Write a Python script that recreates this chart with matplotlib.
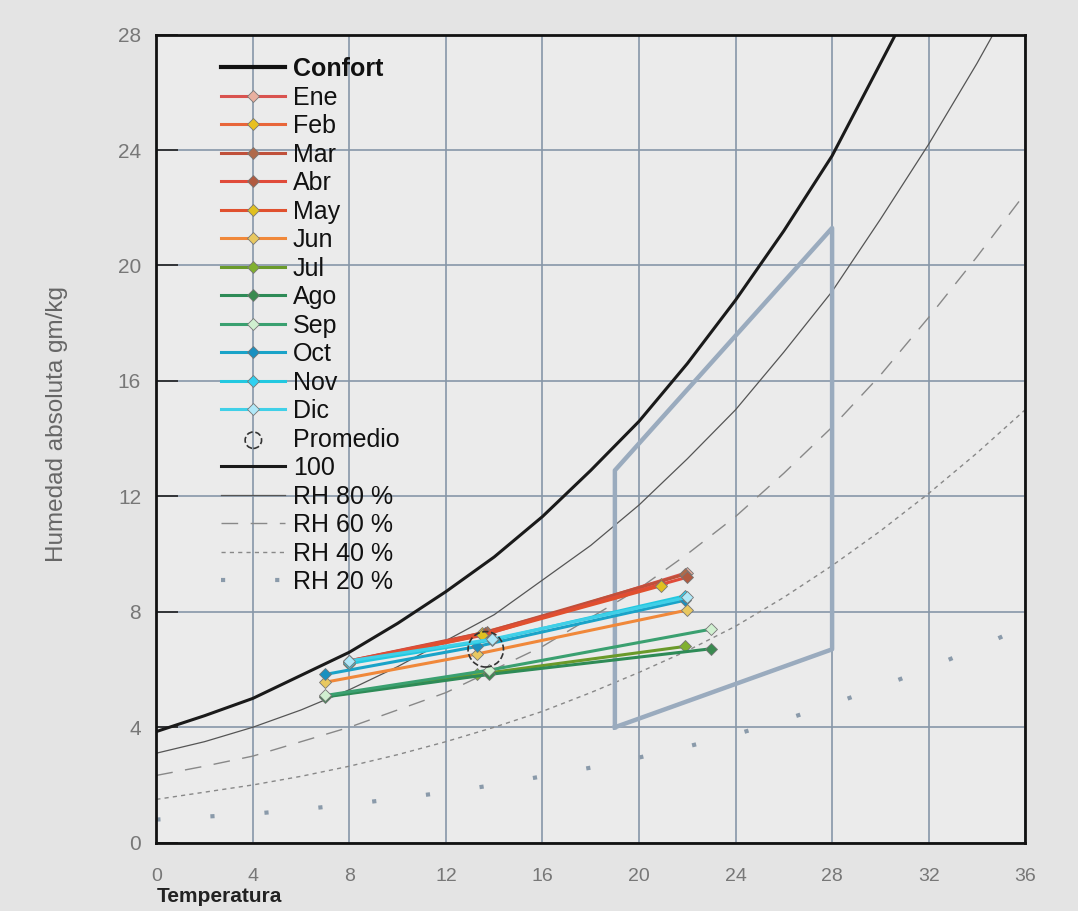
import matplotlib.pyplot as plt
from matplotlib import font_manager

# curvas de humedad relativa
temps_curva = [0, 2, 4, 6, 8, 10, 12, 14, 16, 18, 20, 22, 24, 26, 28, 30, 32, 34, 36]
rh100 = [3.85, 4.4, 5.0, 5.8, 6.6, 7.6, 8.7, 9.9, 11.3, 12.9, 14.6, 16.6, 18.8, 21.2,
         23.8, 27.0, 30.2, 34.0, 38.0]
rh80 = [3.1, 3.5, 4.0, 4.6, 5.3, 6.1, 7.0, 7.9, 9.1, 10.3, 11.7, 13.3, 15.0, 17.0,
        19.1, 21.6, 24.2, 27.0, 30.0]
rh60 = [2.33, 2.65, 3.0, 3.5, 4.0, 4.6, 5.2, 6.0, 6.8, 7.8, 8.8, 10.0, 11.3, 12.8,
        14.4, 16.2, 18.2, 20.3, 22.5]
rh40 = [1.5, 1.75, 2.0, 2.3, 2.65, 3.05, 3.5, 4.0, 4.55, 5.2, 5.9, 6.65, 7.5, 8.5,
        9.6, 10.8, 12.1, 13.5, 15.0]
rh20 = [0.8, 0.9, 1.0, 1.15, 1.33, 1.53, 1.75, 2.0, 2.3, 2.6, 2.95, 3.33, 3.75, 4.25,
        4.8, 5.4, 6.05, 6.75, 7.5]

# zona de confort
confort_t = [19, 19, 28, 28, 19]
confort_h = [4.0, 12.9, 21.3, 6.7, 4.0]

# meses: temperaturas (min, media, max) y humedades
meses = ['Ene', 'Feb', 'Mar', 'Abr', 'May', 'Jun', 'Jul', 'Ago', 'Sep', 'Oct', 'Nov', 'Dic']
t_min = [8.0, 8.0, 8.0, 8.0, 8.0, 7.0, 7.0, 7.0, 7.0, 7.0, 8.0, 8.0]
t_med = [13.6, 13.5, 13.7, 13.6, 13.5, 13.3, 13.3, 13.8, 13.8, 13.3, 13.9, 13.9]
t_max = [22.0, 20.9, 21.9, 22.0, 20.9, 22.0, 21.9, 23.0, 23.0, 21.9, 21.9, 22.0]
h_min = [6.25, 6.2, 6.3, 6.3, 6.25, 5.56, 5.07, 5.05, 5.1, 5.83, 6.21, 6.3]
h_med = [7.2, 7.27, 7.3, 7.25, 7.2, 6.54, 5.83, 5.83, 5.98, 6.8, 7.02, 7.05]
h_max = [9.36, 8.95, 9.3, 9.2, 8.9, 8.06, 6.8, 6.72, 7.4, 8.4, 8.55, 8.5]

prom_t = [13.65]
prom_h = [6.7]

line_colors = ['#d9534f', '#e8663a', '#c0503a', '#e04b3a', '#e0502e', '#f0883a',
               '#6a9a2a', '#2e8b57', '#3aa070', '#1aa3c8', '#22c8e0', '#40d0e8']
marker_colors = ['#e8b0a0', '#e8c020', '#b06a4a', '#b05a40', '#e0c020', '#e8c860',
                 '#80b030', '#3a8a50', '#d0f0d0', '#1a90c0', '#30d0f0', '#b0e8f8']

fonts = [f.name for f in font_manager.fontManager.ttflist]
narrow = 'Liberation Sans Narrow' if 'Liberation Sans Narrow' in fonts else 'Liberation Sans'

fig = plt.figure(figsize=(10.78, 9.11), dpi=100, facecolor='#e4e4e4')
ax = fig.add_axes([0.145, 0.075, 0.806, 0.887])
ax.set_facecolor('#ebebeb')

l_conf, = ax.plot(confort_t, confort_h, color='#9aabbe', linewidth=3.2, label='Confort', zorder=3)

month_lines = []
for i in range(len(meses)):
    ln, = ax.plot([t_min[i], t_med[i], t_max[i]], [h_min[i], h_med[i], h_max[i]],
                  color=line_colors[i], linewidth=2.2, marker='D', markersize=6,
                  markerfacecolor=marker_colors[i], markeredgecolor='#777777',
                  markeredgewidth=0.6, label=meses[i], zorder=4)
    month_lines.append(ln)

prom = ax.scatter(prom_t, prom_h, s=650, facecolors='none', edgecolors='#333333',
                  linestyles='--', linewidths=1.2, label='Promedio', zorder=5)

l100, = ax.plot(temps_curva, rh100, color='#1a1a1a', linewidth=2.2, label='100', zorder=2)
l80, = ax.plot(temps_curva, rh80, color='#555555', linewidth=0.9, label='RH 80 %', zorder=2)
l60, = ax.plot(temps_curva, rh60, color='#888888', linewidth=1.0, linestyle=(0, (12, 9)),
               label='RH 60 %', zorder=2)
l40, = ax.plot(temps_curva, rh40, color='#888888', linewidth=1.0, linestyle=(0, (3, 3)),
               label='RH 40 %', zorder=2)
l20, = ax.plot(temps_curva, rh20, color='#8a9aaa', linewidth=3, linestyle=(0, (1, 12)),
               label='RH 20 %', zorder=2)

ax.set_xlim(0, 36)
ax.set_ylim(0, 28)
ax.set_xticks(range(0, 37, 4))
ax.set_yticks(range(0, 29, 4))
ax.grid(True, color='#8796a8', linewidth=1.2)
ax.set_axisbelow(True)
for sp in ax.spines.values():
    sp.set_color('#111111')
    sp.set_linewidth(2)

ax.tick_params(axis='y', direction='in', length=16, width=1.2, color='#222222',
               labelcolor='#777777', labelsize=15, pad=11)
ax.tick_params(axis='x', direction='in', length=0, labelcolor='#777777', labelsize=14, pad=18)
for lab in ax.get_yticklabels() + ax.get_xticklabels():
    lab.set_fontfamily(narrow)

ax.set_ylabel('Humedad absoluta gm/kg', fontsize=17.5, color='#666666', family='Liberation Sans')
ax.yaxis.set_label_coords(-0.102, 0.518)
ax.set_xlabel('Temperatura', fontsize=15, color='#222222', loc='left', labelpad=2,
              family=narrow, fontweight='bold')

handles = [l_conf] + month_lines + [prom, l100, l80, l60, l40, l20]
leg = ax.legend(handles=handles, loc='upper left', bbox_to_anchor=(0.075, 0.972),
                frameon=False, handlelength=2.55, handletextpad=0.3, borderpad=0,
                borderaxespad=0, labelspacing=0.18, prop={'family': 'Liberation Sans', 'size': 18})
leg.legend_handles[0].set_color('#111111')
leg.legend_handles[0].set_linewidth(3)
leg.legend_handles[13].set_sizes([140])
for txt in leg.get_texts():
    txt.set_color('#111111')
leg.get_texts()[0].set_fontweight('bold')

fig.savefig('out.png', dpi=100, facecolor=fig.get_facecolor())
